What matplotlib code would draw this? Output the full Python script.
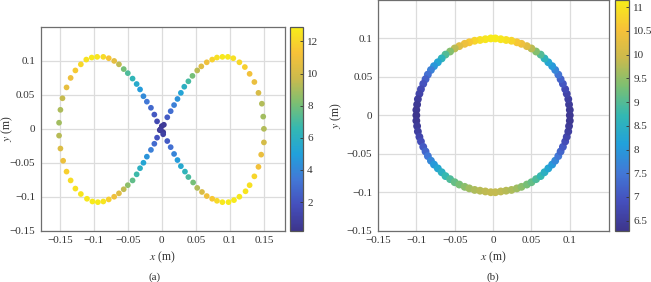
import numpy as np
import matplotlib
matplotlib.use("Agg")
import matplotlib.pyplot as plt
from matplotlib.colors import LinearSegmentedColormap
from matplotlib.ticker import FuncFormatter

plt.rcParams['font.family'] = ['Liberation Serif', 'DejaVu Serif']
plt.rcParams['mathtext.fontset'] = 'stix'
plt.rcParams['font.size'] = 8

# (a) figure-eight path: x, y (m) and colour value
eight_x = [0.000, -0.003, 0.003, 0.002, -0.002,
           -0.007, -0.011, -0.016, -0.022, -0.027, -0.032, -0.037, -0.043, -0.050, -0.056,
           -0.063, -0.070, -0.078, -0.086, -0.095, -0.103, -0.111, -0.119, -0.127, -0.134,
           -0.140, -0.146, -0.149, -0.151, -0.151, -0.149, -0.145, -0.140, -0.134, -0.127,
           -0.119, -0.110, -0.102, -0.094, -0.086, -0.078, -0.070, -0.063, -0.056, -0.050,
           -0.043, -0.037, -0.032, -0.027, -0.022, -0.016, -0.011, -0.007, -0.002,
           0.008, 0.013, 0.018, 0.023, 0.028, 0.033, 0.039, 0.045, 0.052, 0.058,
           0.066, 0.074, 0.081, 0.089, 0.097, 0.105, 0.114, 0.122, 0.129, 0.136,
           0.142, 0.147, 0.149, 0.150, 0.150, 0.146, 0.142, 0.136, 0.129, 0.123,
           0.114, 0.106, 0.098, 0.089, 0.081, 0.074, 0.066, 0.059, 0.052, 0.046,
           0.039, 0.034, 0.028, 0.023, 0.018, 0.013, 0.008, 0.002]
eight_y = [0.004, -0.002, 0.006, -0.005, -0.001,
           0.011, 0.021, 0.031, 0.040, 0.048, 0.058, 0.066, 0.074, 0.082, 0.088,
           0.095, 0.100, 0.104, 0.106, 0.106, 0.105, 0.102, 0.095, 0.086, 0.075,
           0.061, 0.045, 0.028, 0.009, -0.010, -0.029, -0.047, -0.063, -0.076, -0.088,
           -0.096, -0.103, -0.107, -0.108, -0.107, -0.104, -0.100, -0.095, -0.089, -0.083,
           -0.076, -0.067, -0.058, -0.050, -0.041, -0.031, -0.022, -0.013, -0.001,
           0.017, 0.026, 0.035, 0.044, 0.053, 0.062, 0.070, 0.078, 0.086, 0.092,
           0.098, 0.102, 0.105, 0.106, 0.106, 0.104, 0.098, 0.091, 0.081, 0.069,
           0.053, 0.037, 0.018, 0.000, -0.020, -0.038, -0.056, -0.070, -0.083, -0.092,
           -0.100, -0.105, -0.108, -0.108, -0.106, -0.103, -0.099, -0.093, -0.087, -0.079,
           -0.071, -0.063, -0.055, -0.046, -0.037, -0.027, -0.018, -0.008]
eight_c = [0.5, 0.4, 0.6, 0.5, 0.3,
           1.5, 2.2, 2.8, 3.4, 4.1, 4.8, 5.6, 6.4, 7.2, 8.0,
           9.5, 10.6, 11.4, 12.2, 12.6, 12.7, 12.5, 12.1, 11.6, 11.0,
           10.7, 9.6, 9.1, 8.9, 9.3, 10.3, 10.9, 11.8, 12.3, 12.5,
           12.6, 12.7, 12.8, 12.8, 12.6, 11.8, 11.0, 10.4, 9.5, 8.5,
           7.6, 6.8, 6.0, 5.3, 4.5, 3.7, 2.9, 2.0, 0.8,
           2.3, 3.0, 3.7, 4.4, 5.2, 6.0, 7.0, 8.0, 9.4, 10.4,
           11.0, 11.9, 12.4, 12.7, 12.7, 12.4, 12.1, 11.8, 11.1, 10.8,
           10.1, 9.2, 8.9, 9.2, 10.0, 10.8, 11.1, 12.0, 12.4, 12.6,
           12.7, 12.8, 12.8, 12.7, 12.2, 11.5, 11.0, 10.2, 9.2, 8.0,
           7.1, 6.3, 5.5, 4.8, 3.9, 3.1, 2.3, 1.0]

# (b) circular path
circ_x = [0.100, 0.100, 0.099, 0.098, 0.096, 0.094, 0.091, 0.088, 0.085, 0.081,
          0.077, 0.072, 0.067, 0.062, 0.056, 0.050, 0.044, 0.037, 0.031, 0.024,
          0.017, 0.010, 0.003, -0.003, -0.010, -0.017, -0.024, -0.031, -0.037, -0.044,
          -0.050, -0.056, -0.062, -0.067, -0.072, -0.077, -0.081, -0.085, -0.088, -0.091,
          -0.094, -0.096, -0.098, -0.099, -0.100, -0.100, -0.100, -0.099, -0.098, -0.096,
          -0.094, -0.091, -0.088, -0.085, -0.081, -0.077, -0.072, -0.067, -0.062, -0.056,
          -0.050, -0.044, -0.037, -0.031, -0.024, -0.017, -0.010, -0.003, 0.003, 0.010,
          0.017, 0.024, 0.031, 0.037, 0.044, 0.050, 0.056, 0.062, 0.067, 0.072,
          0.077, 0.081, 0.085, 0.088, 0.091, 0.094, 0.096, 0.098, 0.099, 0.100]
circ_y = [0.000, 0.007, 0.014, 0.021, 0.028, 0.034, 0.041, 0.047, 0.053, 0.059,
          0.064, 0.069, 0.074, 0.079, 0.083, 0.087, 0.090, 0.093, 0.095, 0.097,
          0.098, 0.099, 0.100, 0.100, 0.099, 0.098, 0.097, 0.095, 0.093, 0.090,
          0.087, 0.083, 0.079, 0.074, 0.069, 0.064, 0.059, 0.053, 0.047, 0.041,
          0.034, 0.028, 0.021, 0.014, 0.007, 0.000, -0.007, -0.014, -0.021, -0.028,
          -0.034, -0.041, -0.047, -0.053, -0.059, -0.064, -0.069, -0.074, -0.079, -0.083,
          -0.087, -0.090, -0.093, -0.095, -0.097, -0.098, -0.099, -0.100, -0.100, -0.099,
          -0.098, -0.097, -0.095, -0.093, -0.090, -0.087, -0.083, -0.079, -0.074, -0.069,
          -0.064, -0.059, -0.053, -0.047, -0.041, -0.034, -0.028, -0.021, -0.014, -0.007]
circ_c = [6.35, 6.4, 6.45, 6.55, 6.65, 6.8, 7.0, 7.2, 7.45, 7.7,
          8.0, 8.25, 8.6, 9.0, 9.4, 9.8, 10.2, 10.4, 10.6, 10.8,
          10.95, 11.05, 11.1, 11.1, 11.05, 10.95, 10.8, 10.6, 10.4, 10.2,
          9.8, 9.4, 9.0, 8.6, 8.25, 7.95, 7.65, 7.4, 7.15, 6.95,
          6.8, 6.65, 6.5, 6.4, 6.35, 6.3, 6.35, 6.45, 6.55, 6.7,
          6.85, 7.05, 7.25, 7.5, 7.75, 8.0, 8.25, 8.5, 8.75, 8.95,
          9.15, 9.3, 9.45, 9.6, 9.7, 9.78, 9.83, 9.86, 9.86, 9.83,
          9.78, 9.7, 9.6, 9.45, 9.3, 9.15, 8.95, 8.75, 8.5, 8.25,
          8.0, 7.75, 7.5, 7.25, 7.05, 6.85, 6.7, 6.55, 6.45, 6.38]

ticks_a_x = [-0.15, -0.1, -0.05, 0, 0.05, 0.1, 0.15]
ticks_a_y = [-0.15, -0.1, -0.05, 0, 0.05, 0.1]
ticks_b_x = [-0.15, -0.1, -0.05, 0, 0.05, 0.1]
ticks_b_y = [-0.15, -0.1, -0.05, 0, 0.05, 0.1]
cbar_a_ticks = [2, 4, 6, 8, 10, 12]
cbar_b_ticks = [6.5, 7, 7.5, 8, 8.5, 9, 9.5, 10, 10.5, 11]

# parula-like colormap (muted, as printed)
parula = LinearSegmentedColormap.from_list('parula_like', [
    (0.000, (0.24, 0.21, 0.55)),
    (0.125, (0.27, 0.31, 0.74)),
    (0.250, (0.26, 0.47, 0.84)),
    (0.375, (0.13, 0.63, 0.86)),
    (0.500, (0.20, 0.72, 0.70)),
    (0.625, (0.48, 0.75, 0.45)),
    (0.750, (0.80, 0.73, 0.30)),
    (0.875, (0.97, 0.76, 0.22)),
    (1.000, (0.97, 0.93, 0.10))])

fmt = FuncFormatter(lambda v, p: ('%g' % v).replace('-', '\u2212'))


def style_axes(ax, ylab_x):
    ax.grid(True, color='#dcdcdc', linewidth=0.9)
    ax.set_axisbelow(True)
    for s in ax.spines.values():
        s.set_color('#6e6e6e')
        s.set_linewidth(0.9)
    ax.tick_params(length=0, pad=4, colors='#333333', labelsize=8)
    ax.xaxis.set_major_formatter(fmt)
    ax.yaxis.set_major_formatter(fmt)
    ax.set_xlabel('$x$ (m)', fontsize=8.5, color='#333333', labelpad=3)
    ax.set_ylabel('$y$ (m)', fontsize=8.5, color='#333333')
    # label is anchored at its right edge
    ax.yaxis.set_label_coords(ylab_x, 0.5)


def style_cbar(cb):
    cb.outline.set_edgecolor('#555555')
    cb.outline.set_linewidth(0.9)
    cb.ax.tick_params(direction='in', length=2.5, width=0.6, colors='#333333',
                      labelsize=8, pad=3)
    cb.ax.yaxis.set_major_formatter(fmt)


fig = plt.figure(figsize=(6.51, 2.82), dpi=100)

# panel (a)
ax1 = fig.add_axes([0.0625, 0.182, 0.3753, 0.7223])
sc1 = ax1.scatter(eight_x, eight_y, c=eight_c, cmap=parula, vmin=0.22, vmax=12.9,
                  s=17, linewidths=0)
ax1.set_xlim(-0.178, 0.181)
ax1.set_ylim(-0.15, 0.15)
ax1.set_xticks(ticks_a_x)
ax1.set_yticks(ticks_a_y)
style_axes(ax1, -0.104)
cax1 = fig.add_axes([0.4455, 0.182, 0.020, 0.7223])
cb1 = fig.colorbar(sc1, cax=cax1, ticks=cbar_a_ticks)
style_cbar(cb1)

# panel (b)
ax2 = fig.add_axes([0.5806, 0.182, 0.3548, 0.818])
sc2 = ax2.scatter(circ_x, circ_y, c=circ_c, cmap=parula, vmin=6.29, vmax=11.15,
                  s=32, linewidths=0)
ax2.set_xlim(-0.15, 0.151)
ax2.set_ylim(-0.15, 0.15)
ax2.set_xticks(ticks_b_x)
ax2.set_yticks(ticks_b_y)
style_axes(ax2, -0.148)
cax2 = fig.add_axes([0.9447, 0.182, 0.0215, 0.818])
cb2 = fig.colorbar(sc2, cax=cax2, ticks=cbar_b_ticks)
style_cbar(cb2)

fig.text(155 / 651, 1 - 277 / 282, '(a)', ha='center', va='center', fontsize=8, color='#333333')
fig.text(493 / 651, 1 - 277 / 282, '(b)', ha='center', va='center', fontsize=8, color='#333333')

fig.savefig('out.png', dpi=100)
